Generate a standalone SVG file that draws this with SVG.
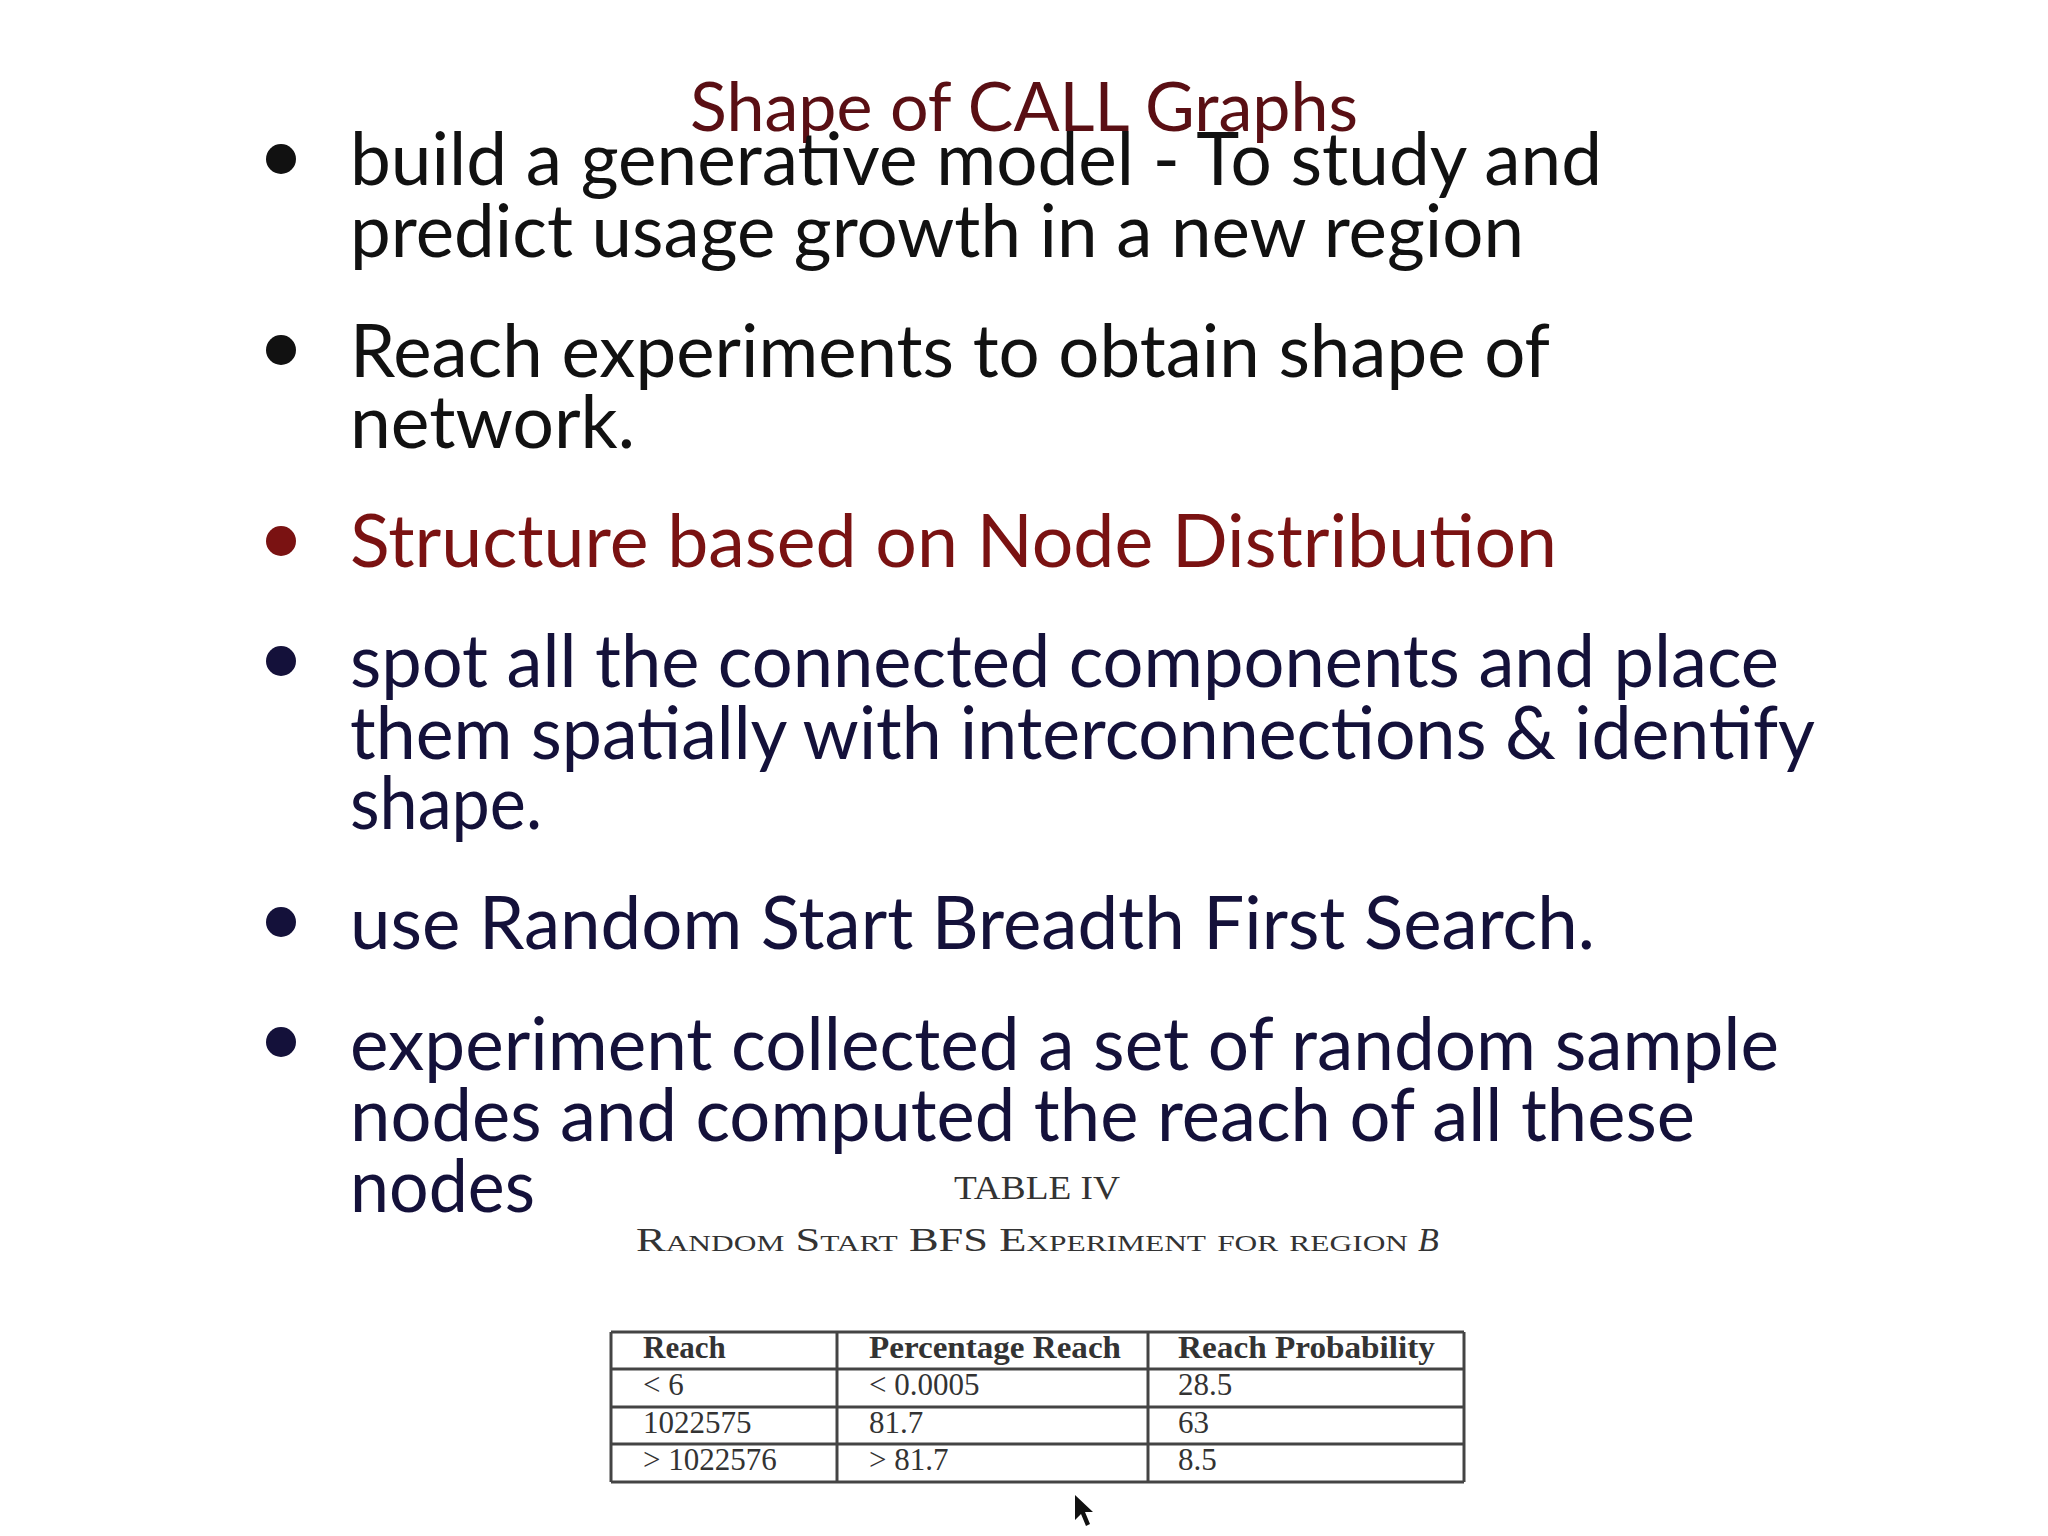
<svg xmlns="http://www.w3.org/2000/svg" width="2048" height="1536" viewBox="0 0 2048 1536">
<style>
.t{font-family:"Lato","Open Sans",sans-serif;font-size:74px;fill:#14113a}
.k{fill:#111}
.r{fill:#7a1212}
.s{font-family:"Liberation Serif",serif;fill:#333}
.c{font-family:"Liberation Serif",serif;font-size:31px;fill:#333}
.h{font-weight:bold}
line{stroke:#444;stroke-width:3}
</style>
<rect width="2048" height="1536" fill="#fff"/>
<text x="1024" y="131" text-anchor="middle" font-family="Lato,sans-serif" font-size="68" fill="#5a0f14" textLength="668" lengthAdjust="spacingAndGlyphs">Shape of CALL Graphs</text>
<g id="bullets">
<circle cx="281" cy="159" r="15" fill="#111"/>
<circle cx="281" cy="350" r="15" fill="#111"/>
<circle cx="281" cy="541" r="15" fill="#7a1212"/>
<circle cx="281" cy="661" r="15" fill="#14113a"/>
<circle cx="281" cy="922" r="15" fill="#14113a"/>
<circle cx="281" cy="1042" r="15" fill="#14113a"/>
</g>
<g id="text">
<text class="t k" x="350" y="185" textLength="1252" lengthAdjust="spacingAndGlyphs">build a generative model - To study and</text>
<text class="t k" x="350" y="257" textLength="1174" lengthAdjust="spacingAndGlyphs">predict usage growth in a new region</text>
<text class="t k" x="350" y="377" textLength="1200" lengthAdjust="spacingAndGlyphs">Reach experiments to obtain shape of</text>
<text class="t k" x="350" y="448" textLength="285" lengthAdjust="spacingAndGlyphs">network.</text>
<text class="t r" x="350" y="567" textLength="1207" lengthAdjust="spacingAndGlyphs">Structure based on Node Distribution</text>
<text class="t" x="350" y="687" textLength="1429" lengthAdjust="spacingAndGlyphs">spot all the connected components and place</text>
<text class="t" x="350" y="759" textLength="1465" lengthAdjust="spacingAndGlyphs">them spatially with interconnections &amp; identify</text>
<text class="t" x="350" y="829" textLength="192" lengthAdjust="spacingAndGlyphs">shape.</text>
<text class="t" x="350" y="949" textLength="1245" lengthAdjust="spacingAndGlyphs">use Random Start Breadth First Search.</text>
<text class="t" x="350" y="1070" textLength="1429" lengthAdjust="spacingAndGlyphs">experiment collected a set of random sample</text>
<text class="t" x="350" y="1141" textLength="1345" lengthAdjust="spacingAndGlyphs">nodes and computed the reach of all these</text>
<text class="t" x="350" y="1212" textLength="185" lengthAdjust="spacingAndGlyphs">nodes</text>
</g>
<g id="table">
<text class="s" x="1037" y="1199" text-anchor="middle" font-size="34" textLength="166" lengthAdjust="spacingAndGlyphs">TABLE IV</text>
<text class="s" x="636" y="1251" font-size="34" font-variant="small-caps" textLength="772" lengthAdjust="spacingAndGlyphs">Random Start BFS Experiment for region</text>
<text class="s" x="1418" y="1251" font-size="34" font-style="italic">B</text>
<line x1="611" y1="1332" x2="1464" y2="1332"/>
<line x1="611" y1="1369" x2="1464" y2="1369"/>
<line x1="611" y1="1407" x2="1464" y2="1407"/>
<line x1="611" y1="1444" x2="1464" y2="1444"/>
<line x1="611" y1="1482" x2="1464" y2="1482"/>
<line x1="611" y1="1332" x2="611" y2="1482"/>
<line x1="837" y1="1332" x2="837" y2="1482"/>
<line x1="1148" y1="1332" x2="1148" y2="1482"/>
<line x1="1464" y1="1332" x2="1464" y2="1482"/>
<text class="c h" x="643" y="1358">Reach</text>
<text class="c h" x="869" y="1358" textLength="252" lengthAdjust="spacingAndGlyphs">Percentage Reach</text>
<text class="c h" x="1178" y="1358" textLength="257" lengthAdjust="spacingAndGlyphs">Reach Probability</text>
<text class="c" x="643" y="1395">&lt; 6</text>
<text class="c" x="869" y="1395">&lt; 0.0005</text>
<text class="c" x="1178" y="1395">28.5</text>
<text class="c" x="643" y="1433">1022575</text>
<text class="c" x="869" y="1433">81.7</text>
<text class="c" x="1178" y="1433">63</text>
<text class="c" x="643" y="1470">&gt; 1022576</text>
<text class="c" x="869" y="1470">&gt; 81.7</text>
<text class="c" x="1178" y="1470">8.5</text>
</g>
<polygon points="1075,1495 1075,1520 1081,1514 1086,1526 1090,1524 1085,1512 1093,1512" fill="#111"/>
</svg>
